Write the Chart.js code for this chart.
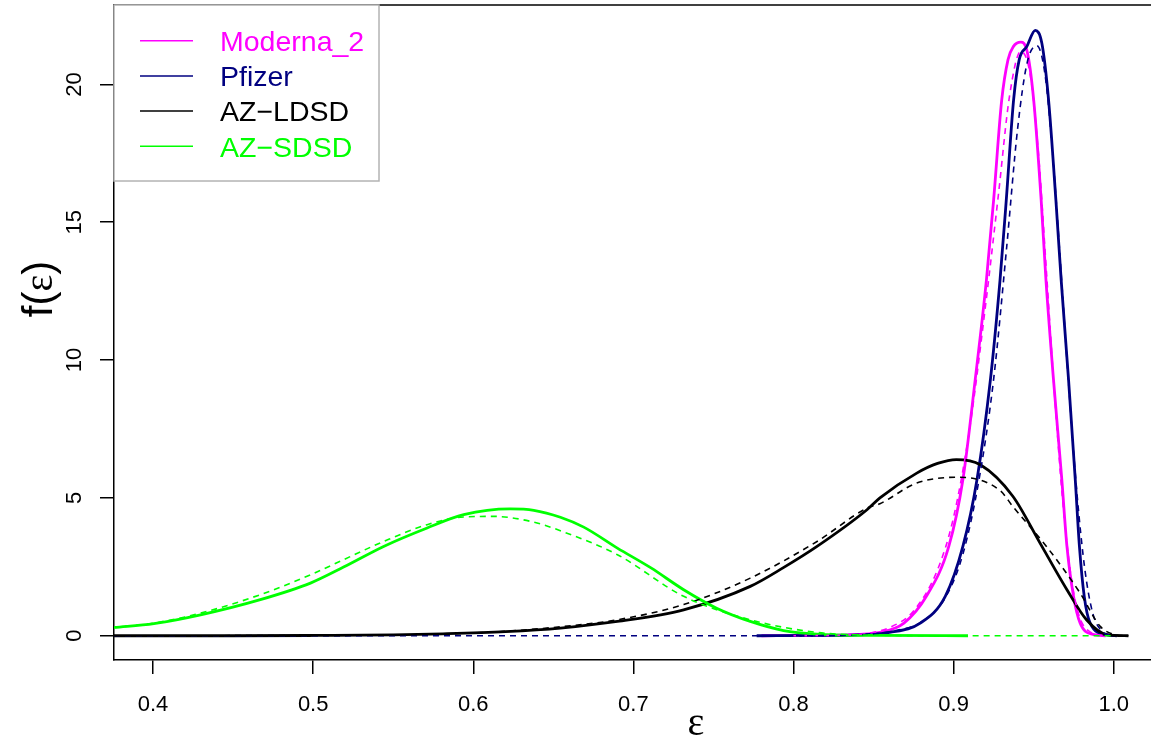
<!DOCTYPE html>
<html>
<head>
<meta charset="utf-8">
<script src="https://cdn.jsdelivr.net/npm/chart.js@4.4.1/dist/chart.umd.min.js"></script>
<style>
  html, body { margin: 0; padding: 0; background: #fff; }
  canvas { display: block; }
</style>
</head>
<body>
<canvas id="densChart" width="1151" height="738"></canvas>
<script>
// axis ticks
const xTicks = [0.4, 0.5, 0.6, 0.7, 0.8, 0.9, 1.0];
const yTicks = [0, 5, 10, 15, 20];

const seriesNames = ['Moderna_2', 'Pfizer', 'AZ\u2212LDSD', 'AZ\u2212SDSD'];
const seriesColors = ['#ff00ff', '#000080', '#000000', '#00ff00'];

// Moderna_2 - estimated density (solid) and fitted curve (dashed)
const modernaX = [0.78, 0.82, 0.84, 0.854, 0.869, 0.883, 0.897, 0.9058, 0.9135, 0.9205, 0.925, 0.930, 0.934, 0.9373, 0.942, 0.9457, 0.950, 0.9547, 0.9577, 0.9624, 0.9676, 0.9708, 0.9749, 0.979, 0.987, 0.995];
const modernaY = [0, 0.01, 0.05, 0.12, 0.46, 1.43, 3.24, 5.66, 9.29, 12.9, 15.8, 19.4, 20.9, 21.37, 21.53, 21.25, 19.45, 15.8, 12.9, 9.29, 5.66, 3.24, 1.43, 0.46, 0.05, 0];
const modernaFitX = [0.80, 0.84, 0.86, 0.875, 0.89, 0.90, 0.91, 0.92, 0.928, 0.935, 0.942, 0.948, 0.953, 0.958, 0.963, 0.968, 0.973, 0.978, 0.985, 0.995];
const modernaFitY = [0, 0.05, 0.3, 0.9, 2.4, 4.3, 7.5, 12.0, 16.0, 19.6, 21.2, 20.3, 17.5, 13.2, 8.8, 5.0, 2.3, 0.8, 0.15, 0];

// Pfizer
const pfizerX = [0.777, 0.82, 0.845, 0.860, 0.8792, 0.8948, 0.9058, 0.9146, 0.923, 0.929, 0.9329, 0.9375, 0.941, 0.9457, 0.951, 0.9551, 0.9593, 0.9639, 0.9672, 0.9718, 0.976, 0.9786, 0.9816, 0.9853, 0.9957, 1.002];
const pfizerY = [0, 0.01, 0.04, 0.12, 0.46, 1.43, 3.24, 5.66, 9.29, 12.9, 15.8, 19.45, 20.9, 21.37, 21.96, 21.5, 19.45, 15.8, 12.9, 9.29, 5.66, 3.24, 1.43, 0.46, 0.03, 0];
const pfizerFitX = [0.3756, 0.80, 0.845, 0.865, 0.88, 0.895, 0.906, 0.916, 0.925, 0.933, 0.94, 0.946, 0.952, 0.957, 0.962, 0.967, 0.972, 0.977, 0.982, 0.987, 0.993, 1.0];
const pfizerFitY = [0, 0, 0.04, 0.2, 0.5, 1.4, 3.0, 5.7, 9.3, 14.0, 18.4, 20.8, 21.4, 20.4, 17.4, 13.3, 9.0, 5.2, 2.4, 0.8, 0.15, 0];

// AZ-LDSD
const azLdsdX = [0.3756, 0.45, 0.5, 0.55, 0.581, 0.62, 0.6544, 0.69, 0.7314, 0.773, 0.7937, 0.8147, 0.8459, 0.854, 0.877, 0.890, 0.9017, 0.9167, 0.937, 0.954, 0.9708, 0.983, 0.9957, 1.0092];
const azLdsdY = [0, 0, 0.01, 0.03, 0.07, 0.15, 0.28, 0.52, 0.94, 1.79, 2.47, 3.24, 4.57, 5.0, 5.9, 6.25, 6.39, 6.2, 5.06, 3.36, 1.67, 0.58, 0.04, 0];
const azLdsdFitX = [0.3756, 0.5, 0.6, 0.65, 0.69, 0.7314, 0.773, 0.8147, 0.8459, 0.854, 0.877, 0.903, 0.929, 0.937, 0.958, 0.979, 0.9916, 1.0, 1.0092];
const azLdsdFitY = [0, 0.01, 0.1, 0.3, 0.58, 1.13, 2.09, 3.42, 4.63, 4.79, 5.54, 5.75, 5.27, 4.69, 3.24, 1.55, 0.34, 0.05, 0];

// AZ-SDSD
const azSdsdX = [0.3756, 0.4005, 0.4297, 0.467, 0.4983, 0.519, 0.544, 0.5712, 0.594, 0.623, 0.6378, 0.6544, 0.669, 0.69, 0.711, 0.7314, 0.752, 0.773, 0.7938, 0.8147, 0.85, 0.909];
const azSdsdY = [0.30, 0.44, 0.76, 1.31, 1.91, 2.49, 3.24, 3.91, 4.39, 4.6, 4.55, 4.3, 3.94, 3.18, 2.46, 1.67, 1.0, 0.52, 0.19, 0.06, 0.01, 0];
const azSdsdFitX = [0.3756, 0.4005, 0.4297, 0.467, 0.4983, 0.519, 0.544, 0.5712, 0.594, 0.6128, 0.6357, 0.6544, 0.69, 0.7314, 0.773, 0.8147, 0.85, 0.9, 1.0];
const azSdsdFitY = [0.30, 0.46, 0.82, 1.49, 2.21, 2.76, 3.42, 4.03, 4.31, 4.33, 4.15, 3.81, 2.94, 1.43, 0.58, 0.12, 0.02, 0, 0];

function toPoints(xs, ys) {
    return xs.map((x, i) => ({ x: x, y: ys[i] }));
}

function curve(xs, ys, color, dashed) {
    return {
        data: toPoints(xs, ys),
        borderColor: color,
        borderWidth: dashed ? 1.6 : 2.8,
        borderDash: dashed ? [6, 5] : [],
        pointRadius: 0,
        fill: false,
        cubicInterpolationMode: 'monotone'
    };
}

// first dataset ends up on top
const datasets = [
    curve(azSdsdFitX, azSdsdFitY, seriesColors[3], true),
    curve(azLdsdFitX, azLdsdFitY, seriesColors[2], true),
    curve(pfizerFitX, pfizerFitY, seriesColors[1], true),
    curve(modernaFitX, modernaFitY, seriesColors[0], true),
    curve(azSdsdX, azSdsdY, seriesColors[3], false),
    curve(azLdsdX, azLdsdY, seriesColors[2], false),
    curve(pfizerX, pfizerY, seriesColors[1], false),
    curve(modernaX, modernaY, seriesColors[0], false)
];

// R-style box, axis titles and legend
const rDecor = {
    id: 'rDecor',
    afterDraw(chart) {
        const ctx = chart.ctx;
        const area = chart.chartArea;
        ctx.save();
        ctx.strokeStyle = '#000';
        ctx.lineWidth = 1.5;
        ctx.beginPath();
        ctx.moveTo(area.left, area.top);
        ctx.lineTo(area.right + 2, area.top);
        ctx.stroke();

        // x title
        ctx.fillStyle = '#000';
        ctx.font = '40px "Liberation Serif"';
        ctx.textAlign = 'center';
        ctx.textBaseline = 'alphabetic';
        ctx.fillText('\u03b5', 696, 735);

        // y title f(ε)
        ctx.save();
        ctx.translate(52, 289);
        ctx.rotate(-Math.PI / 2);
        const parts = [
            ['f(', '42px "Liberation Sans"'],
            ['\u03b5', '40px "Liberation Serif"'],
            [')', '42px "Liberation Sans"']
        ];
        let total = 0;
        parts.forEach(p => { ctx.font = p[1]; total += ctx.measureText(p[0]).width; });
        let px = -total / 2;
        ctx.textAlign = 'left';
        parts.forEach(p => {
            ctx.font = p[1];
            ctx.fillText(p[0], px, 0);
            px += ctx.measureText(p[0]).width;
        });
        ctx.restore();

        // legend
        const box = { left: 114, top: 5, width: 265, height: 176 };
        ctx.fillStyle = '#fff';
        ctx.fillRect(box.left, box.top, box.width, box.height);
        ctx.strokeStyle = '#b3b3b3';
        ctx.lineWidth = 1.5;
        ctx.strokeRect(box.left, box.top, box.width, box.height);
        ctx.font = '28.5px "Liberation Sans"';
        ctx.textAlign = 'left';
        ctx.textBaseline = 'alphabetic';
        seriesNames.forEach((name, i) => {
            const rowY = 40.7 + i * 35.2;
            ctx.strokeStyle = seriesColors[i];
            ctx.lineWidth = 1.5;
            ctx.beginPath();
            ctx.moveTo(140, rowY);
            ctx.lineTo(193, rowY);
            ctx.stroke();
            ctx.fillStyle = seriesColors[i];
            ctx.fillText(name, 220, rowY + 10.2);
        });
        ctx.restore();
    }
};

const tickFont = { family: '"Liberation Sans", Arial, sans-serif', size: 22 };

new Chart(document.getElementById('densChart').getContext('2d'), {
    type: 'line',
    data: { datasets: datasets },
    options: {
        responsive: false,
        animation: false,
        events: [],
        layout: { padding: { top: 5, right: 0, left: 0, bottom: 0 } },
        plugins: {
            legend: { display: false },
            tooltip: { enabled: false }
        },
        scales: {
            x: {
                type: 'linear',
                min: 0.3756,
                max: 1.0233,
                afterBuildTicks: (scale) => { scale.ticks = xTicks.map(v => ({ value: v })); },
                afterFit: (scale) => { scale.height = 78; scale.paddingLeft = 0; scale.paddingRight = 0; },
                grid: { drawOnChartArea: false, drawTicks: true, tickLength: 14, tickColor: '#000', lineWidth: 1.5 },
                border: { display: true, color: '#000', width: 1.5 },
                ticks: {
                    color: '#000',
                    font: tickFont,
                    padding: 18,
                    maxRotation: 0,
                    callback: (v) => Number(v).toFixed(1)
                }
            },
            y: {
                type: 'linear',
                min: -0.88,
                max: 22.88,
                afterBuildTicks: (scale) => { scale.ticks = yTicks.map(v => ({ value: v })); },
                afterFit: (scale) => { scale.width = 114; scale.paddingTop = 0; scale.paddingBottom = 0; },
                grid: { drawOnChartArea: false, drawTicks: true, tickLength: 14, tickColor: '#000', lineWidth: 1.5 },
                border: { display: true, color: '#000', width: 1.5 },
                ticks: {
                    color: '#000',
                    font: tickFont,
                    padding: 13,
                    crossAlign: 'center',
                    minRotation: 90,
                    maxRotation: 90,
                    callback: (v) => String(v)
                }
            }
        }
    },
    plugins: [rDecor]
});
</script>
</body>
</html>
